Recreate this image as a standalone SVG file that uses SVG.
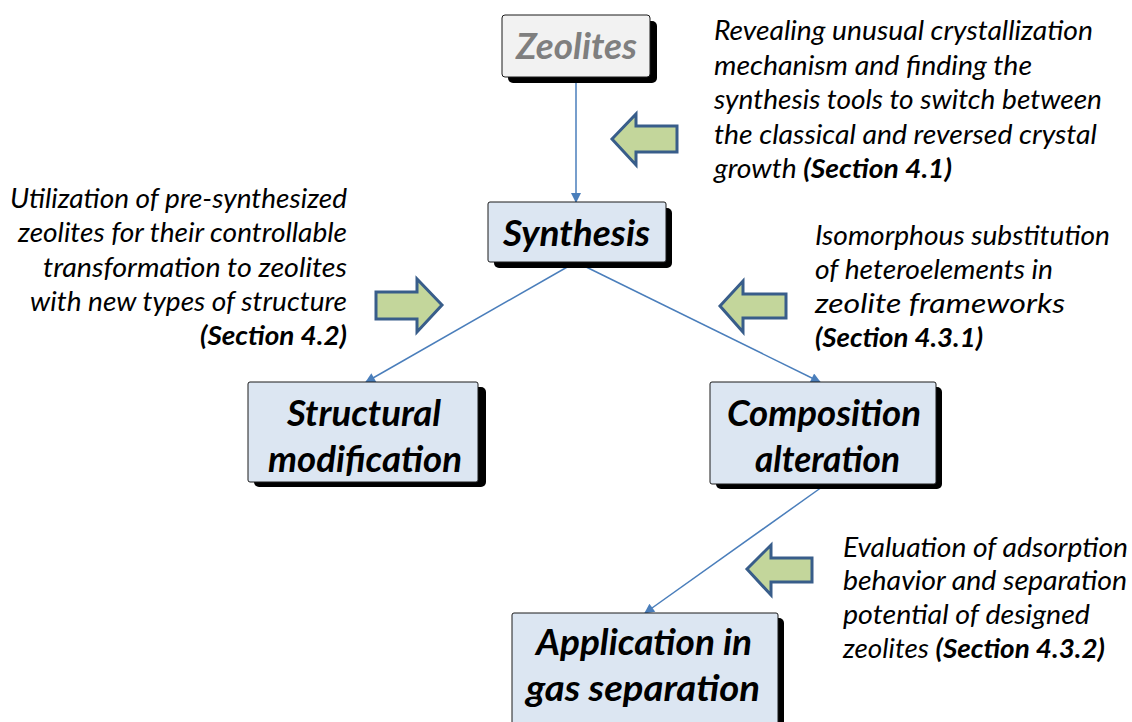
<svg xmlns="http://www.w3.org/2000/svg" width="1132" height="722" viewBox="0 0 1132 722">
<defs>
<marker id="ah" viewBox="0 0 10 10" refX="9" refY="5" markerWidth="12" markerHeight="10" markerUnits="userSpaceOnUse" orient="auto">
<path d="M0,0 L10,5 L0,10 Z" fill="#4a7ebb"/>
</marker>
<style>
.sh{fill:#000}
.box{fill:#dce6f2;stroke:#1a1a1a;stroke-width:1}
.gbox{fill:#f2f2f2;stroke:#1a1a1a;stroke-width:1}
.lbl{font-family:Lato,"Liberation Sans",sans-serif;font-style:italic;font-weight:bold;font-size:36px;fill:#000}
.glbl{fill:#7f7f7f}
.desc{font-family:Lato,"Liberation Sans",sans-serif;font-style:italic;font-size:27px;fill:#000}
.b{font-weight:bold}
.conn{stroke:#4a7ebb;stroke-width:1.5;fill:none;marker-end:url(#ah)}
.blk{fill:#c3d69b;stroke:#385d8a;stroke-width:3;stroke-linejoin:miter}
</style>
</defs>
<rect width="1132" height="722" fill="#fff"/>

<g id="connectors">
<line class="conn" x1="576" y1="78" x2="576" y2="202"/>
<line class="conn" x1="576" y1="262" x2="366" y2="382"/>
<line class="conn" x1="576" y1="262" x2="820" y2="382"/>
<line class="conn" x1="822" y1="487" x2="645" y2="613"/>
</g>

<g id="node-zeolites">
<rect class="sh" x="508" y="21" width="149" height="62" rx="5"/>
<rect class="gbox" x="502" y="15" width="148" height="62" rx="3"/>
<text class="lbl glbl" x="516" y="59" textLength="121" lengthAdjust="spacingAndGlyphs">Zeolites</text>
</g>

<g id="node-synthesis">
<rect class="sh" x="494" y="208" width="178" height="60" rx="5"/>
<rect class="box" x="488" y="202" width="178" height="60" rx="2"/>
<text class="lbl" x="503" y="246" textLength="147" lengthAdjust="spacingAndGlyphs">Synthesis</text>
</g>

<g id="node-structural">
<rect class="sh" x="254" y="387" width="232" height="100" rx="5"/>
<rect class="box" x="248" y="382" width="230" height="100" rx="2"/>
<text class="lbl" x="287" y="426" textLength="154" lengthAdjust="spacingAndGlyphs">Structural</text>
<text class="lbl" x="268" y="472" textLength="194" lengthAdjust="spacingAndGlyphs">modification</text>
</g>

<g id="node-composition">
<rect class="sh" x="716" y="387" width="226" height="102" rx="5"/>
<rect class="box" x="710" y="382" width="226" height="102" rx="2"/>
<text class="lbl" x="727" y="426" textLength="194" lengthAdjust="spacingAndGlyphs">Composition</text>
<text class="lbl" x="755" y="472" textLength="145" lengthAdjust="spacingAndGlyphs">alteration</text>
</g>

<g id="node-application">
<rect class="sh" x="518" y="618" width="266" height="120" rx="5"/>
<rect class="box" x="512" y="613" width="266" height="120" rx="2"/>
<text class="lbl" x="536" y="655" textLength="216" lengthAdjust="spacingAndGlyphs">Application in</text>
<text class="lbl" x="526" y="701" textLength="234" lengthAdjust="spacingAndGlyphs">gas separation</text>
</g>

<g id="arrow-4-1">
<path class="blk" d="M612,139 L636,114 L636,126 L677,126 L677,152 L636,152 L636,165 Z"/>
</g>
<g id="arrow-4-2">
<path class="blk" d="M442,305 L417,279 L417,292 L376,292 L376,319 L417,319 L417,332 Z"/>
</g>
<g id="arrow-4-3-1">
<path class="blk" d="M720,306 L743,281 L743,294 L786,294 L786,318 L743,318 L743,332 Z"/>
</g>
<g id="arrow-4-3-2">
<path class="blk" d="M747,569 L771,545 L771,558 L812,558 L812,582 L771,582 L771,595 Z"/>
</g>

<g id="text-4-1">
<text class="desc" x="714" y="40" textLength="379" lengthAdjust="spacingAndGlyphs">Revealing unusual crystallization</text>
<text class="desc" x="714" y="75" textLength="318" lengthAdjust="spacingAndGlyphs">mechanism and finding the</text>
<text class="desc" x="714" y="109" textLength="388" lengthAdjust="spacingAndGlyphs">synthesis tools to switch between</text>
<text class="desc" x="714" y="144" textLength="383" lengthAdjust="spacingAndGlyphs">the classical and reversed crystal</text>
<text class="desc" x="714" y="178" textLength="238" lengthAdjust="spacingAndGlyphs">growth <tspan class="b">(Section 4.1)</tspan></text>
</g>

<g id="text-4-2">
<text class="desc" x="10" y="208" textLength="337" lengthAdjust="spacingAndGlyphs">Utilization of pre-synthesized</text>
<text class="desc" x="18" y="242" textLength="329" lengthAdjust="spacingAndGlyphs">zeolites for their controllable</text>
<text class="desc" x="43" y="277" textLength="304" lengthAdjust="spacingAndGlyphs">transformation to zeolites</text>
<text class="desc" x="30" y="311" textLength="317" lengthAdjust="spacingAndGlyphs">with new types of structure</text>
<text class="desc b" x="200" y="345" textLength="147" lengthAdjust="spacingAndGlyphs">(Section 4.2)</text>
</g>

<g id="text-4-3-1">
<text class="desc" x="815" y="245" textLength="295" lengthAdjust="spacingAndGlyphs">Isomorphous substitution</text>
<text class="desc" x="815" y="279" textLength="238" lengthAdjust="spacingAndGlyphs">of heteroelements in</text>
<text class="desc" x="815" y="313" textLength="250" lengthAdjust="spacingAndGlyphs">zeolite frameworks</text>
<text class="desc b" x="815" y="347" textLength="168" lengthAdjust="spacingAndGlyphs">(Section 4.3.1)</text>
</g>

<g id="text-4-3-2">
<text class="desc" x="843" y="557" textLength="285" lengthAdjust="spacingAndGlyphs">Evaluation of adsorption</text>
<text class="desc" x="843" y="590" textLength="284" lengthAdjust="spacingAndGlyphs">behavior and separation</text>
<text class="desc" x="843" y="624" textLength="247" lengthAdjust="spacingAndGlyphs">potential of designed</text>
<text class="desc" x="843" y="658" textLength="262" lengthAdjust="spacingAndGlyphs">zeolites <tspan class="b">(Section 4.3.2)</tspan></text>
</g>
</svg>
